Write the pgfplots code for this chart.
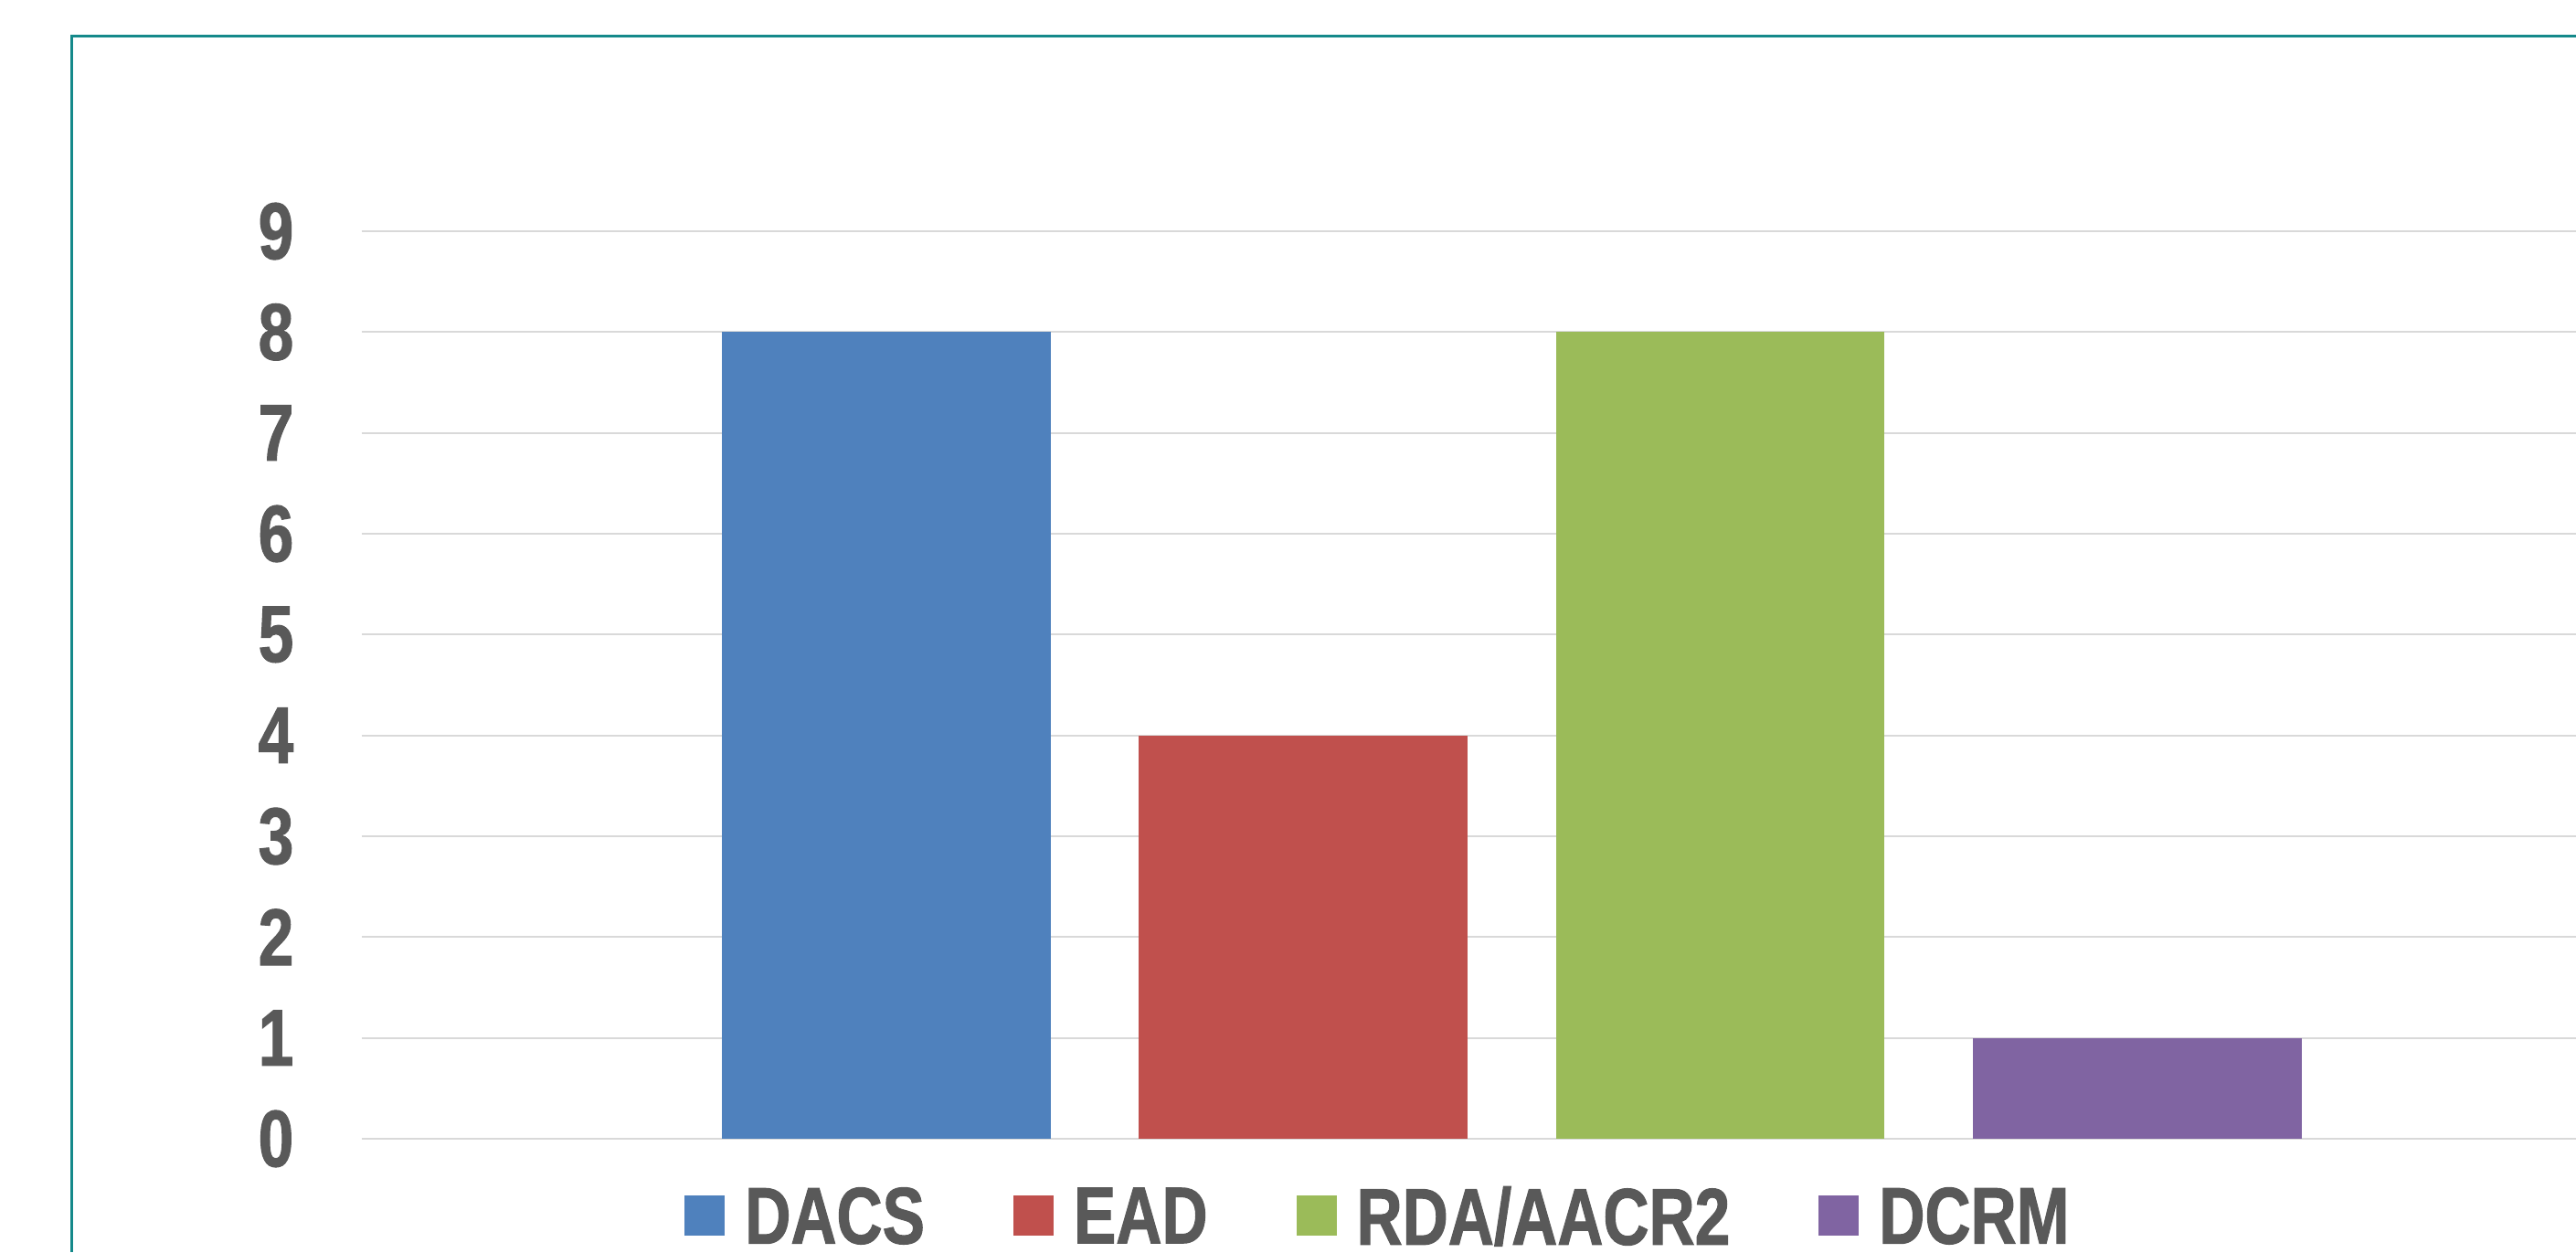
\documentclass[border=0pt]{standalone}
\usepackage{fontspec}
\setmainfont{Liberation Sans}[FakeStretch=0.79, BoldFeatures={FakeBold=1.2}]
\usepackage{pgfplots}
\pgfplotsset{compat=1.18}
\definecolor{txt}{HTML}{595959}
\definecolor{grd}{HTML}{D9D9D9}
\definecolor{frm}{HTML}{14898A}
\definecolor{cA}{HTML}{4F81BD}
\definecolor{cB}{HTML}{C0504D}
\definecolor{cC}{HTML}{9BBB59}
\definecolor{cD}{HTML}{8064A2}
\pgfplotsset{sq/.style={legend image code/.code={\fill[##1] (0cm,-0.22cm) rectangle (0.44cm,0.22cm);}}}
\begin{document}
\begin{tikzpicture}
\useasboundingbox (-3.96cm,-1.24cm) rectangle (24.23cm,12.46cm);
\begin{axis}[
  at={(0,0)}, anchor=south west,
  scale only axis, width=24.23cm, height=9.93cm,
  xmin=-1.2577, xmax=4.052, ymin=0, ymax=9,
  axis line style={draw=none},
  xtick=\empty, ytick={0,1,...,9},
  ymajorgrids, grid style={grd, line width=0.02cm},
  major tick length=0pt,
  /pgf/number format/assume math mode=true,
  yticklabel style={font=\fontsize{25}{30}\selectfont\bfseries, text=txt, anchor=east, inner sep=0pt, xshift=-0.74cm},
  legend columns=4,
  legend style={at={(0.4585,0)}, anchor=center, yshift=-0.84cm, draw=none, fill=none,
    font=\fontsize{25}{30}\selectfont\bfseries, text=txt, inner sep=0pt,
    nodes={inner sep=0pt, text depth=0pt},
    /tikz/every odd column/.append style={column sep=0.22cm},
    /tikz/every even column/.append style={column sep=0.97cm}},
]
\addplot[ybar, bar width=0.788, bar shift=0pt, fill=cA, draw=none, sq] coordinates {(0,8)};
\addplot[ybar, bar width=0.788, bar shift=0pt, fill=cB, draw=none, sq] coordinates {(1,4)};
\addplot[ybar, bar width=0.788, bar shift=0pt, fill=cC, draw=none, sq] coordinates {(2,8)};
\addplot[ybar, bar width=0.788, bar shift=0pt, fill=cD, draw=none, sq] coordinates {(3,1)};
\legend{DACS,EAD,RDA/AACR2,DCRM}
\end{axis}
\draw[frm, line width=0.03cm] (-3.17cm,-1.24cm) -- (-3.17cm,12.06cm) -- (24.23cm,12.06cm);
\end{tikzpicture}
\end{document}
